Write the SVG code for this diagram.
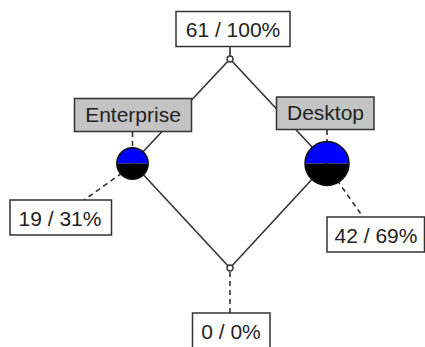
<svg xmlns="http://www.w3.org/2000/svg" width="425" height="347" viewBox="0 0 425 347">
<style>
.lbl{fill:#fff;stroke:#333;stroke-width:1.5}
.cat{fill:#c4c4c4;stroke:#333;stroke-width:1.5}
.t{font-family:"Liberation Sans",Arial,sans-serif;font-size:21px;fill:#222;text-anchor:middle}
.edge{stroke:#333;stroke-width:1.6;fill:none}
.dash{stroke:#333;stroke-width:1.6;fill:none;stroke-dasharray:5,4}
.pt{fill:#fff;stroke:#333;stroke-width:1.4}
.ring{fill:none;stroke:#111;stroke-width:1.5}
</style>
<rect width="425" height="347" fill="#fff"/>
<g id="connectors">
<line class="edge" x1="230" y1="59" x2="132.5" y2="163"/>
<line class="edge" x1="230" y1="59" x2="327" y2="163"/>
<line class="edge" x1="132.5" y1="163" x2="230" y2="268"/>
<line class="edge" x1="327" y1="163" x2="230" y2="268"/>
<line class="edge" x1="230" y1="47" x2="230" y2="56"/>
<line class="dash" x1="132.5" y1="132" x2="132.5" y2="148"/>
<line class="dash" x1="327" y1="130" x2="327" y2="142"/>
<line class="dash" x1="122" y1="173" x2="84" y2="200"/>
<line class="dash" x1="337" y1="180" x2="363" y2="217"/>
<line class="dash" x1="230" y1="272" x2="230" y2="313"/>
</g>
<g id="n-total">
<rect class="lbl" x="176" y="11.5" width="114" height="35"/>
<text class="t" x="233" y="37">61 / 100%</text>
</g>
<g id="n-top">
<circle class="pt" cx="230" cy="59" r="3"/>
</g>
<g id="n-enterprise">
<rect class="cat" x="74.5" y="98.5" width="117" height="33"/>
<text class="t" x="133" y="122">Enterprise</text>
</g>
<g id="n-desktop">
<rect class="cat" x="276.5" y="97" width="97.5" height="32.5"/>
<text class="t" x="325.5" y="120">Desktop</text>
</g>
<g id="n-enterprise-pie">
<path d="M116.8,163.5 A15.7,15.7 0 0 1 148.2,163.5 Z" fill="#0000ff"/>
<path d="M116.8,163.5 A15.7,15.7 0 0 0 148.2,163.5 Z" fill="#000"/>
<circle class="ring" cx="132.5" cy="163.5" r="15.7"/>
</g>
<g id="n-desktop-pie">
<path d="M305,163.5 A22,22 0 0 1 349,163.5 Z" fill="#0000ff"/>
<path d="M305,163.5 A22,22 0 0 0 349,163.5 Z" fill="#000"/>
<circle class="ring" cx="327" cy="163.5" r="22"/>
</g>
<g id="n-enterprise-count">
<rect class="lbl" x="10" y="200" width="101.5" height="35"/>
<text class="t" x="60" y="226">19 / 31%</text>
</g>
<g id="n-desktop-count">
<rect class="lbl" x="327" y="217" width="97.5" height="35"/>
<text class="t" x="376" y="243">42 / 69%</text>
</g>
<g id="n-bottom">
<circle class="pt" cx="230" cy="268" r="3"/>
</g>
<g id="n-none">
<rect class="lbl" x="192.5" y="313" width="77.5" height="40"/>
<text class="t" x="231" y="339">0 / 0%</text>
</g>
</svg>
